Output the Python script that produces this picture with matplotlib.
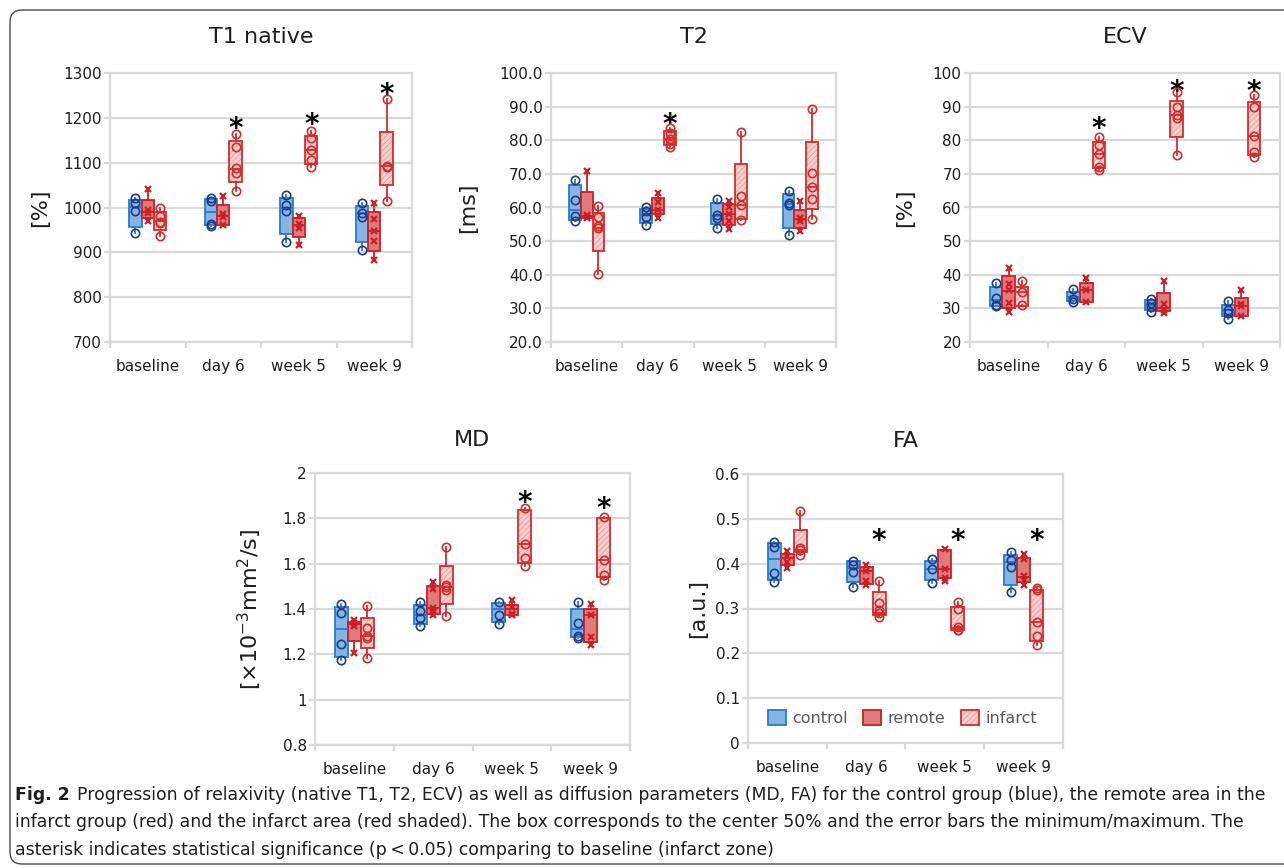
import numpy as np
import matplotlib
matplotlib.use("Agg")
import matplotlib.pyplot as plt
from matplotlib.patches import FancyBboxPatch, Patch
from matplotlib.legend_handler import HandlerTuple
from matplotlib.transforms import offset_copy

W, H = 1284, 868

CATEGORIES = ["baseline", "day 6", "week 5", "week 9"]
SERIES = ["control", "remote", "infarct"]

# (q1, median, q3) per category, plus the individual points (min/max -> whiskers)
T1_CONTROL_Q = [(956, 1001, 1017), (961, 989, 1019), (941, 1000, 1022), (922, 987, 1004)]
T1_CONTROL_PTS = [[1022, 1009, 993, 944], [1021, 1014, 963, 959], [1028, 1006, 993, 924], [1009, 987, 978, 905]]
T1_REMOTE_Q = [(976, 990, 1016), (961, 980, 1005), (935, 961, 976), (904, 948, 991)]
T1_REMOTE_PTS = [[1041, 994, 987, 970], [1025, 986, 978, 961], [980, 964, 955, 916], [1010, 974, 948, 926, 882]]
T1_INFARCT_Q = [(950, 970, 989), (1056, 1086, 1149), (1097, 1129, 1159), (1051, 1092, 1168)]
T1_INFARCT_PTS = [[1000, 980, 968, 966, 937], [1165, 1136, 1087, 1078, 1037], [1170, 1155, 1129, 1107, 1091], [1243, 1093, 1090, 1015]]
T1_STARS = [None, 1194, 1202, 1270]

T2_CONTROL_Q = [(56.3, 59.3, 66.6), (55.3, 57.8, 59.7), (55.0, 57.4, 61.3), (53.8, 61.0, 64.0)]
T2_CONTROL_PTS = [[68.2, 62.2, 57.4, 56.0], [60.1, 59.0, 57.3, 54.9], [62.5, 57.8, 57.0, 54.0], [65.0, 61.3, 60.8, 51.8]]
T2_REMOTE_Q = [(56.9, 57.5, 64.6), (58.0, 59.3, 62.8), (54.8, 58.0, 61.0), (54.0, 56.6, 59.3)]
T2_REMOTE_PTS = [[71.0, 57.8, 57.4, 56.8], [64.3, 61.5, 59.3, 57.0], [62.0, 60.0, 58.0, 56.0, 53.6], [62.0, 56.8, 56.1, 53.0]]
T2_INFARCT_Q = [(47.1, 54.0, 58.5), (78.6, 80.5, 82.8), (56.5, 60.6, 73.0), (59.6, 66.0, 79.6)]
T2_INFARCT_PTS = [[60.3, 57.2, 54.4, 54.0, 40.3], [83.6, 82.3, 80.5, 79.0, 78.0], [82.5, 63.5, 60.6, 56.3], [89.3, 70.3, 66.0, 62.6, 56.6]]
T2_STARS = [None, 87.0, None, None]

ECV_CONTROL_Q = [(30.8, 32.4, 36.3), (32.2, 33.5, 34.8), (29.4, 31.0, 32.4), (27.7, 29.4, 31.1)]
ECV_CONTROL_PTS = [[37.5, 33.2, 31.0, 30.8], [35.8, 32.9, 31.9], [32.9, 31.6, 30.4, 28.9], [32.2, 29.6, 28.7, 26.9]]
ECV_REMOTE_Q = [(30.1, 35.3, 39.5), (31.9, 35.5, 37.5), (29.1, 30.1, 34.7), (27.8, 30.6, 33.2)]
ECV_REMOTE_PTS = [[42.0, 37.3, 35.5, 31.6, 28.9], [39.1, 35.5, 31.9], [38.1, 31.2, 29.4, 28.7], [35.5, 31.2, 30.6, 27.6]]
ECV_INFARCT_Q = [(30.7, 35.0, 36.5), (71.8, 75.9, 79.6), (80.9, 87.5, 91.8), (75.7, 81.2, 91.5)]
ECV_INFARCT_PTS = [[38.2, 34.8, 30.9], [81.1, 78.7, 75.9, 72.0, 71.2], [94.3, 89.8, 87.5, 86.5, 75.7], [93.6, 90.0, 81.2, 76.4, 75.1]]
ECV_STARS = [None, 85.8, 96.7, 96.7]

MD_CONTROL_Q = [(1.190, 1.313, 1.409), (1.332, 1.372, 1.419), (1.342, 1.400, 1.427), (1.276, 1.313, 1.400)]
MD_CONTROL_PTS = [[1.421, 1.384, 1.244, 1.173], [1.431, 1.390, 1.362, 1.323], [1.431, 1.372, 1.332], [1.431, 1.340, 1.283, 1.273]]
MD_REMOTE_Q = [(1.261, 1.335, 1.342), (1.379, 1.404, 1.500), (1.372, 1.400, 1.419), (1.254, 1.372, 1.399)]
MD_REMOTE_PTS = [[1.350, 1.340, 1.323, 1.205], [1.520, 1.487, 1.404, 1.387, 1.372], [1.438, 1.409, 1.379, 1.372], [1.424, 1.372, 1.276, 1.239]]
MD_INFARCT_Q = [(1.227, 1.280, 1.362), (1.421, 1.497, 1.589), (1.605, 1.685, 1.837), (1.539, 1.616, 1.800)]
MD_INFARCT_PTS = [[1.412, 1.316, 1.283, 1.273, 1.186], [1.675, 1.508, 1.497, 1.483, 1.369], [1.844, 1.685, 1.623, 1.589], [1.807, 1.616, 1.552, 1.530]]
MD_STARS = [None, None, 1.903, 1.877]

FA_CONTROL_Q = [(0.364, 0.410, 0.446), (0.359, 0.390, 0.405), (0.364, 0.389, 0.405), (0.352, 0.404, 0.419)]
FA_CONTROL_PTS = [[0.448, 0.437, 0.379, 0.358], [0.407, 0.398, 0.381, 0.349], [0.410, 0.389, 0.357], [0.426, 0.409, 0.392, 0.336]]
FA_REMOTE_Q = [(0.396, 0.413, 0.422), (0.355, 0.384, 0.392), (0.367, 0.387, 0.431), (0.359, 0.370, 0.413)]
FA_REMOTE_PTS = [[0.429, 0.416, 0.403, 0.390], [0.396, 0.384, 0.361, 0.352], [0.433, 0.387, 0.367, 0.362], [0.422, 0.411, 0.372, 0.364, 0.353]]
FA_INFARCT_Q = [(0.426, 0.431, 0.476), (0.286, 0.290, 0.336), (0.253, 0.256, 0.303), (0.228, 0.270, 0.342)]
FA_INFARCT_PTS = [[0.517, 0.436, 0.431, 0.420], [0.362, 0.312, 0.297, 0.290, 0.282], [0.314, 0.299, 0.258, 0.253, 0.251], [0.346, 0.342, 0.270, 0.239, 0.219]]
FA_STARS = [None, 0.468, 0.468, 0.468]

CAPTION = [
    "Progression of relaxivity (native T1, T2, ECV) as well as diffusion parameters (MD, FA) for the control group (blue), the remote area in the",
    "infarct group (red) and the infarct area (red shaded). The box corresponds to the center 50% and the error bars the minimum/maximum. The",
    "asterisk indicates statistical significance (p\u2009<\u20090.05) comparing to baseline (infarct zone)",
]

STYLE = {
    "control": dict(face="#84b6e3", edge="#2a7acb", hatch=None, marker="o", mcolor="#1d3c8a"),
    "remote": dict(face="#df7b7b", edge="#cc1f26", hatch=None, marker="x", mcolor="#cc1f26"),
    "infarct": dict(face="#f7d0d0", edge="#d42b2b", hatch="//////", hatchc="#e59a9a", marker="o", mcolor="#d42b2b"),
}
GRID = "#d9d9d9"
TXT = "#1e1e1e"
BOX_W = 0.165

plt.rcParams["font.family"] = "DejaVu Sans"
plt.rcParams["hatch.linewidth"] = 0.6


def px_rect(left, top, right, bottom):
    return [left / W, 1 - bottom / H, (right - left) / W, (bottom - top) / H]


def draw_panel(fig, rect, title, ylabel, ylabel_dx, title_dy, ylim, ystep, fmt, quarts, points, stars):
    ax = fig.add_axes(px_rect(*rect))
    ax.set_xlim(0, 4)
    ax.set_ylim(*ylim)
    yt = np.arange(ylim[0], ylim[1] + ystep / 2, ystep)
    ax.set_yticks(yt)
    ax.set_yticklabels([fmt(v) for v in yt])
    ax.grid(axis="y", color=GRID, lw=1.6)
    ax.set_axisbelow(True)
    for sp in ax.spines.values():
        sp.set_color(GRID)
        sp.set_linewidth(1.6)
    ax.set_xticks(range(5))
    ax.set_xticklabels([])
    ax.set_xticks([i + 0.5 for i in range(4)], labels=CATEGORIES, minor=True)
    ax.tick_params(axis="both", which="major", length=4, width=1.6, color=GRID,
                   labelsize=11, labelcolor=TXT, pad=2)
    ax.tick_params(axis="x", which="minor", length=0, labelsize=11, labelcolor=TXT, pad=12)

    for s, name in enumerate(SERIES):
        st = STYLE[name]
        pos = [i + 0.5 + (s - 1) * BOX_W for i in range(4)]
        qs, pts = quarts[s], points[s]
        stats = [dict(q1=q[0], med=q[1], q3=q[2], whislo=min(p), whishi=max(p), fliers=[])
                 for q, p in zip(qs, pts)]
        face = st["face"]
        if st["hatch"]:
            ax.bar(pos, [q[2] - q[0] for q in qs], bottom=[q[0] for q in qs], width=BOX_W,
                   color=st["face"], edgecolor=st["hatchc"], lw=0, hatch=st["hatch"], zorder=2)
            face = "none"
        ax.bxp(stats, positions=pos, widths=BOX_W, patch_artist=True, showcaps=False,
               showfliers=False, manage_ticks=False, zorder=3,
               boxprops=dict(facecolor=face, edgecolor=st["edge"], linewidth=1.3),
               whiskerprops=dict(color=st["edge"], linewidth=1.3),
               medianprops=dict(color=st["edge"], linewidth=1.3))
        for x, p in zip(pos, pts):
            if st["marker"] == "x":
                ax.plot([x] * len(p), p, ls="none", marker="x", ms=5, mew=1.6,
                        color=st["mcolor"], zorder=4)
            else:
                ax.plot([x] * len(p), p, ls="none", marker="o", ms=6, mew=1.2,
                        mfc="none", mec=st["mcolor"], zorder=4)

    star_fs = 20
    star_tr = offset_copy(ax.transData, fig, y=-0.58 * star_fs, units="points")
    for i, y in enumerate(stars):
        if y is not None:
            ax.text(i + 0.5 + BOX_W, y, "*", fontsize=star_fs, fontweight="bold",
                    ha="center", va="baseline", color="black", transform=star_tr, clip_on=False)

    ax.text(0.5, 1.0, title, fontsize=16, color=TXT, ha="center", va="center",
            transform=offset_copy(ax.transAxes, fig, y=title_dy, units="dots"))
    ax.text(0.0, 0.5, ylabel, fontsize=16, color=TXT, ha="center", va="center", rotation=90,
            transform=offset_copy(ax.transAxes, fig, x=-ylabel_dx, units="dots"))
    return ax


fig = plt.figure(figsize=(W / 100, H / 100), dpi=100)

frame = FancyBboxPatch((10, 4), 1500, H - 14, boxstyle="round,pad=0,rounding_size=12",
                       transform=None, facecolor="none", edgecolor="#4a4a4a", lw=1.0)
fig.add_artist(frame)

fmt_int = lambda v: f"{v:.0f}"
fmt_1 = lambda v: f"{v:.1f}"
fmt_g = lambda v: f"{round(v, 2):g}"

draw_panel(fig, (110, 73, 412, 342), "T1 native", "[%]", 70, 36, (700, 1300), 100, fmt_int,
           [T1_CONTROL_Q, T1_REMOTE_Q, T1_INFARCT_Q], [T1_CONTROL_PTS, T1_REMOTE_PTS, T1_INFARCT_PTS], T1_STARS)
draw_panel(fig, (551, 73, 836, 342), "T2", "[ms]", 83, 36, (20, 100), 10, fmt_1,
           [T2_CONTROL_Q, T2_REMOTE_Q, T2_INFARCT_Q], [T2_CONTROL_PTS, T2_REMOTE_PTS, T2_INFARCT_PTS], T2_STARS)
draw_panel(fig, (970, 73, 1280, 342), "ECV", "[%]", 65, 36, (20, 100), 10, fmt_int,
           [ECV_CONTROL_Q, ECV_REMOTE_Q, ECV_INFARCT_Q], [ECV_CONTROL_PTS, ECV_REMOTE_PTS, ECV_INFARCT_PTS], ECV_STARS)
draw_panel(fig, (315, 473, 630, 745), "MD", "[\u00d710$^{-3}$mm$^{2}$/s]", 65, 33, (0.8, 2.0), 0.2, fmt_g,
           [MD_CONTROL_Q, MD_REMOTE_Q, MD_INFARCT_Q], [MD_CONTROL_PTS, MD_REMOTE_PTS, MD_INFARCT_PTS], MD_STARS)
ax_fa = draw_panel(fig, (748, 474, 1063, 743), "FA", "[a.u.]", 50, 33, (0.0, 0.6), 0.1, fmt_g,
                   [FA_CONTROL_Q, FA_REMOTE_Q, FA_INFARCT_Q], [FA_CONTROL_PTS, FA_REMOTE_PTS, FA_INFARCT_PTS], FA_STARS)

plt.rcParams["mathtext.default"] = "regular"

handles = []
for name in SERIES:
    st = STYLE[name]
    if st["hatch"]:
        handles.append((Patch(facecolor=st["face"], edgecolor=st["hatchc"], hatch=st["hatch"], lw=0),
                        Patch(facecolor="none", edgecolor=st["edge"], lw=1.3)))
    else:
        handles.append(Patch(facecolor=st["face"], edgecolor=st["edge"], lw=1.3))
ax_fa.legend(handles, SERIES, loc="center", bbox_to_anchor=(0.49, 0.093), ncol=3, frameon=False,
             fontsize=11.5, labelcolor="#595959", handlelength=1.1, handleheight=1.1,
             handletextpad=0.4, columnspacing=1.0, handler_map={tuple: HandlerTuple(ndivide=1)})

# caption
CAP_FONT = ["Liberation Sans Narrow", "DejaVu Sans"]
cap_fs = 13.0
line_y = [795, 822, 850]
t_bold = fig.text(15 / W, 1 - line_y[0] / H, "Fig. 2", fontsize=cap_fs, fontweight="bold",
                  family=CAP_FONT, color=TXT, ha="left", va="center")
t_lines = [fig.text(15 / W, 1 - y / H, txt, fontsize=cap_fs, family=CAP_FONT, color=TXT,
                    ha="left", va="center") for y, txt in zip(line_y, CAPTION)]


def place_caption():
    fig.canvas.draw()
    r = fig.canvas.get_renderer()
    bb = t_bold.get_window_extent(r)
    t_lines[0].set_x((bb.x1 + 0.6 * cap_fs) / W)
    fig.canvas.draw()
    return t_lines[0].get_window_extent(r).x1


right = place_caption()
cap_fs = cap_fs * (1262 - 15) / (right - 15)
for t in [t_bold] + t_lines:
    t.set_fontsize(cap_fs)
place_caption()

fig.savefig("out.png", dpi=100)
